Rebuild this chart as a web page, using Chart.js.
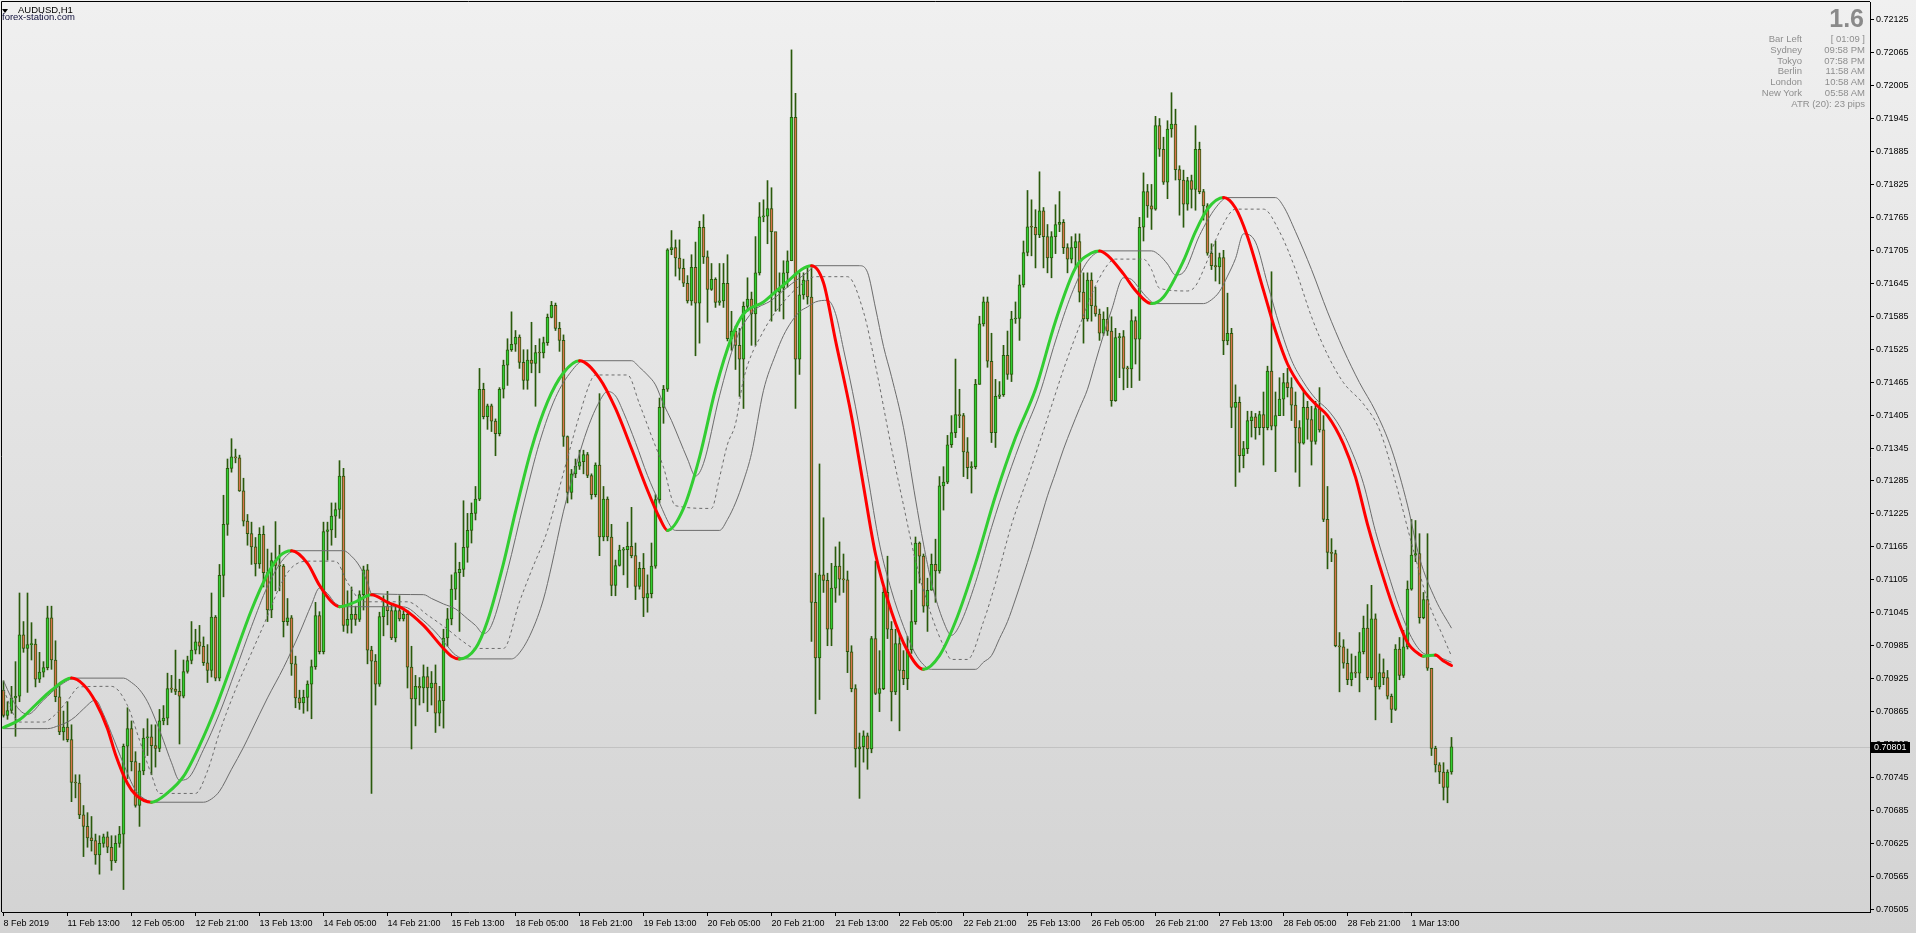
<!DOCTYPE html>
<html><head><meta charset="utf-8">
<script src="https://cdn.jsdelivr.net/npm/chart.js@4.4.1/dist/chart.umd.min.js"></script>
<style>
html,body{margin:0;padding:0;width:1916px;height:933px;overflow:hidden;background:#e2e2e2;}
#wrap{position:relative;width:1916px;height:933px;}
#c{position:absolute;left:0;top:0;}
.t{position:absolute;font-family:"Liberation Sans",Arial,sans-serif;white-space:nowrap;}
.lab{position:absolute;right:114px;font-family:"Liberation Sans",Arial,sans-serif;font-size:9.5px;line-height:10.8px;color:#8e8e8e;text-align:right;white-space:nowrap;}
.val{position:absolute;right:51px;font-family:"Liberation Sans",Arial,sans-serif;font-size:9.5px;line-height:10.8px;color:#8e8e8e;text-align:right;white-space:nowrap;}
</style></head><body>
<div id="wrap">
<canvas id="c" width="1916" height="933"></canvas>
<div style="position:absolute;left:2px;top:9px;width:0;height:0;border-left:3.5px solid transparent;border-right:3.5px solid transparent;border-top:4px solid #000;"></div>
<div class="t" style="left:18px;top:4px;font-size:9.5px;line-height:12px;color:#000;">AUDUSD,H1</div>
<div class="t" style="left:2px;top:11px;font-size:9.5px;line-height:12px;color:#0e0e3a;">forex-station.com</div>
<div class="t" style="right:52px;top:6px;font-size:25px;line-height:25px;font-weight:bold;color:#8a8a8a;">1.6</div>
<div class="lab" style="top:34px;">Bar Left</div><div class="val" style="top:34px;">[ 01:09 ]</div>
<div class="lab" style="top:45px;">Sydney</div><div class="val" style="top:45px;">09:58 PM</div>
<div class="lab" style="top:56px;">Tokyo</div><div class="val" style="top:56px;">07:58 PM</div>
<div class="lab" style="top:66px;">Berlin</div><div class="val" style="top:66px;">11:58 AM</div>
<div class="lab" style="top:77px;">London</div><div class="val" style="top:77px;">10:58 AM</div>
<div class="lab" style="top:88px;">New York</div><div class="val" style="top:88px;">05:58 AM</div>
<div class="val" style="top:99px;">ATR (20): 23 pips</div>
</div>
<script>
// ---------- DATA (AUDUSD H1, 8 Feb 2019 21:00 -> 1 Mar 2019 23:00) ----------
const opens = [
0.70904,0.70858,0.70867,0.70890,0.70893,0.71005,0.70980,0.70987,0.70988,0.70924,
0.70937,0.70945,0.71036,0.70959,0.70892,0.70828,0.70837,0.70814,0.70736,0.70735,
0.70677,0.70656,0.70635,0.70630,0.70604,0.70625,0.70637,0.70618,0.70593,0.70625,
0.70642,0.70802,0.70834,0.70774,0.70694,0.70757,0.70817,0.70819,0.70803,0.70798,
0.70848,0.70853,0.70907,0.70906,0.70902,0.70893,0.70938,0.70958,0.70977,0.70992,
0.70984,0.70954,0.70940,0.71037,0.70926,0.71113,0.71206,0.71308,0.71329,0.71327,
0.71267,0.71212,0.71189,0.71165,0.71134,0.71188,0.71118,0.71050,0.71140,0.71131,
0.71130,0.71029,0.71036,0.70952,0.70890,0.70881,0.70891,0.70915,0.70947,0.71040,
0.70974,0.71193,0.71196,0.71221,0.71233,0.71294,0.71022,0.71033,0.71042,0.71033,
0.71078,0.71123,0.70977,0.70957,0.70915,0.71038,0.71057,0.71049,0.70999,0.71049,
0.71034,0.71042,0.70946,0.70888,0.70911,0.70908,0.70929,0.70908,0.70917,0.70862,
0.70885,0.70999,0.71034,0.71088,0.71118,0.71124,0.71164,0.71195,0.71226,0.71252,
0.71452,0.71402,0.71422,0.71394,0.71371,0.71452,0.71496,0.71524,0.71534,0.71547,
0.71501,0.71468,0.71505,0.71499,0.71519,0.71518,0.71537,0.71583,0.71605,0.71563,
0.71541,0.71366,0.71264,0.71298,0.71312,0.71320,0.71333,0.71295,0.71260,0.71314,
0.71183,0.71252,0.71183,0.71095,0.71131,0.71159,0.71160,0.71166,0.71149,0.71093,
0.71126,0.71072,0.71080,0.71130,0.71251,0.71419,0.71452,0.71706,0.71710,0.71691,
0.71672,0.71645,0.71613,0.71674,0.71609,0.71747,0.71693,0.71634,0.71652,0.71610,
0.71613,0.71645,0.71544,0.71558,0.71532,0.71507,0.71603,0.71616,0.71589,0.71664,
0.71766,0.71767,0.71781,0.71739,0.71629,0.71636,0.71664,0.71686,0.71947,0.71507,
0.71624,0.71651,0.71620,0.71064,0.70963,0.71114,0.71104,0.71015,0.71090,0.71130,
0.71106,0.71105,0.70974,0.70907,0.70797,0.70801,0.70821,0.70797,0.70998,0.70898,
0.70907,0.71082,0.71015,0.70901,0.70989,0.70940,0.70925,0.70978,0.71029,0.71172,
0.71148,0.71057,0.71086,0.71133,0.71121,0.71276,0.71283,0.71351,0.71373,0.71406,
0.71404,0.71338,0.71309,0.71311,0.71461,0.71571,0.71611,0.71503,0.71373,0.71439,
0.71442,0.71514,0.71479,0.71580,0.71581,0.71642,0.71701,0.71748,0.71747,0.71733,
0.71777,0.71730,0.71691,0.71730,0.71752,0.71756,0.71710,0.71689,0.71710,0.71721,
0.71629,0.71580,0.71651,0.71604,0.71589,0.71554,0.71580,0.71558,0.71431,0.71546,
0.71548,0.71490,0.71489,0.71577,0.71543,0.71747,0.71812,0.71786,0.71780,0.71932,
0.71889,0.71829,0.71926,0.71935,0.71852,0.71833,0.71789,0.71832,0.71816,0.71889,
0.71812,0.71786,0.71700,0.71677,0.71675,0.71692,0.71540,0.71554,0.71419,0.71428,
0.71331,0.71344,0.71395,0.71402,0.71382,0.71406,0.71382,0.71485,0.71385,0.71404,
0.71434,0.71464,0.71455,0.71423,0.71382,0.71354,0.71419,0.71397,0.71357,0.71417,
0.71378,0.71215,0.71155,0.71153,0.70985,0.70983,0.70953,0.70923,0.70936,0.70935,
0.70974,0.71017,0.70927,0.71034,0.70910,0.70936,0.70927,0.70893,0.70869,0.70979,
0.70931,0.70983,0.71088,0.71150,0.71153,0.71036,0.71069,0.70944,0.70798,0.70768,
0.70755,0.70727,0.70755];
const highs = [
0.70921,0.70883,0.70911,0.70956,0.71081,0.71029,0.71081,0.71027,0.70997,0.70973,
0.70956,0.71057,0.71057,0.70994,0.70911,0.70866,0.70883,0.70841,0.70750,0.70750,
0.70694,0.70681,0.70674,0.70642,0.70639,0.70642,0.70646,0.70639,0.70639,0.70656,
0.70806,0.70872,0.70848,0.70792,0.70771,0.70834,0.70852,0.70841,0.70841,0.70869,
0.70876,0.70935,0.70931,0.70977,0.70924,0.70959,0.70966,0.71029,0.71015,0.71022,
0.71001,0.70987,0.71081,0.71040,0.71133,0.71259,0.71325,0.71362,0.71343,0.71332,
0.71290,0.71224,0.71210,0.71182,0.71200,0.71203,0.71161,0.71154,0.71211,0.71168,
0.71133,0.71071,0.71040,0.70966,0.70904,0.70904,0.70921,0.70959,0.71064,0.71047,
0.71210,0.71210,0.71245,0.71245,0.71322,0.71308,0.71085,0.71092,0.71057,0.71085,
0.71130,0.71133,0.70984,0.70969,0.71046,0.71076,0.71084,0.71061,0.71057,0.71076,
0.71049,0.71049,0.70984,0.70931,0.70927,0.70950,0.70946,0.70938,0.70950,0.70911,
0.71015,0.71053,0.71114,0.71172,0.71137,0.71249,0.71226,0.71245,0.71275,0.71490,
0.71463,0.71425,0.71425,0.71398,0.71455,0.71505,0.71544,0.71593,0.71559,0.71551,
0.71524,0.71524,0.71574,0.71532,0.71544,0.71547,0.71589,0.71612,0.71609,0.71574,
0.71551,0.71367,0.71306,0.71325,0.71341,0.71341,0.71337,0.71298,0.71318,0.71444,
0.71275,0.71256,0.71206,0.71141,0.71168,0.71164,0.71210,0.71237,0.71172,0.71137,
0.71153,0.71114,0.71172,0.71260,0.71436,0.71459,0.71708,0.71741,0.71724,0.71724,
0.71689,0.71659,0.71697,0.71720,0.71758,0.71770,0.71704,0.71681,0.71655,0.71681,
0.71681,0.71697,0.71594,0.71567,0.71563,0.71611,0.71655,0.71629,0.71730,0.71792,
0.71797,0.71832,0.71819,0.71682,0.71664,0.71686,0.71704,0.72070,0.71991,0.71664,
0.71664,0.71673,0.71673,0.71117,0.71316,0.71218,0.71117,0.71135,0.71165,0.71174,
0.71152,0.71121,0.70985,0.70914,0.70826,0.70830,0.70826,0.71002,0.71139,0.70976,
0.71090,0.71148,0.71029,0.71015,0.71007,0.70976,0.71002,0.71086,0.71183,0.71174,
0.71152,0.71108,0.71152,0.71179,0.71293,0.71311,0.71368,0.71404,0.71507,0.71452,
0.71408,0.71364,0.71320,0.71470,0.71585,0.71620,0.71620,0.71554,0.71470,0.71466,
0.71532,0.71558,0.71594,0.71611,0.71660,0.71722,0.71814,0.71797,0.71779,0.71848,
0.71783,0.71752,0.71739,0.71788,0.71812,0.71761,0.71717,0.71730,0.71735,0.71735,
0.71664,0.71664,0.71664,0.71638,0.71598,0.71593,0.71601,0.71584,0.71563,0.71554,
0.71559,0.71494,0.71597,0.71584,0.71765,0.71846,0.71825,0.71825,0.71949,0.71945,
0.71911,0.71941,0.71992,0.71962,0.71859,0.71851,0.71838,0.71842,0.71932,0.71902,
0.71816,0.71790,0.71717,0.71722,0.71700,0.71705,0.71627,0.71563,0.71460,0.71438,
0.71357,0.71412,0.71412,0.71408,0.71412,0.71447,0.71494,0.71666,0.71447,0.71473,
0.71481,0.71490,0.71473,0.71447,0.71395,0.71447,0.71430,0.71421,0.71430,0.71455,
0.71404,0.71275,0.71180,0.71159,0.71009,0.70996,0.70979,0.70970,0.70966,0.71009,
0.71039,0.71060,0.71095,0.71043,0.70970,0.70961,0.70940,0.70897,0.70987,0.71000,
0.71013,0.71103,0.71215,0.71213,0.71189,0.71082,0.71189,0.70944,0.70802,0.70772,
0.70772,0.70759,0.70818];
const lows = [
0.70855,0.70851,0.70862,0.70820,0.70883,0.70973,0.70900,0.70959,0.70910,0.70918,
0.70928,0.70941,0.70942,0.70883,0.70823,0.70813,0.70810,0.70701,0.70708,0.70670,
0.70601,0.70618,0.70611,0.70587,0.70569,0.70618,0.70608,0.70576,0.70590,0.70618,
0.70541,0.70743,0.70757,0.70691,0.70656,0.70750,0.70785,0.70750,0.70764,0.70792,
0.70841,0.70841,0.70900,0.70896,0.70806,0.70890,0.70935,0.70952,0.70970,0.70970,
0.70949,0.70918,0.70928,0.70921,0.70921,0.71074,0.71186,0.71301,0.71318,0.71266,
0.71203,0.71168,0.71133,0.71112,0.71126,0.71092,0.71029,0.71036,0.71085,0.71085,
0.71001,0.71022,0.70931,0.70872,0.70869,0.70862,0.70866,0.70852,0.70942,0.70970,
0.70970,0.71141,0.71168,0.71182,0.71217,0.71011,0.71008,0.71008,0.71022,0.71029,
0.71050,0.70952,0.70716,0.70877,0.70911,0.71003,0.71023,0.70996,0.70992,0.71030,
0.71030,0.70908,0.70797,0.70839,0.70877,0.70881,0.70865,0.70877,0.70827,0.70839,
0.70835,0.70984,0.71023,0.71069,0.71011,0.71111,0.71137,0.71172,0.71214,0.71249,
0.71398,0.71379,0.71375,0.71331,0.71367,0.71436,0.71459,0.71521,0.71521,0.71490,
0.71452,0.71452,0.71482,0.71421,0.71482,0.71509,0.71532,0.71582,0.71559,0.71521,
0.71348,0.71245,0.71252,0.71291,0.71306,0.71298,0.71291,0.71252,0.71256,0.71149,
0.71176,0.71176,0.71076,0.71076,0.71130,0.71114,0.71091,0.71145,0.71069,0.71088,
0.71038,0.71046,0.71072,0.71126,0.71245,0.71390,0.71448,0.71697,0.71658,0.71651,
0.71639,0.71609,0.71605,0.71513,0.71536,0.71681,0.71574,0.71632,0.71601,0.71605,
0.71601,0.71540,0.71523,0.71488,0.71439,0.71417,0.71594,0.71532,0.71532,0.71660,
0.71757,0.71717,0.71576,0.71594,0.71594,0.71580,0.71638,0.71686,0.71417,0.71479,
0.71616,0.71607,0.70993,0.70861,0.70887,0.71082,0.70985,0.70985,0.71064,0.71077,
0.71082,0.70936,0.70901,0.70764,0.70707,0.70773,0.70760,0.70790,0.70896,0.70865,
0.70905,0.70998,0.70848,0.70896,0.70830,0.70914,0.70905,0.70971,0.71024,0.71099,
0.71046,0.71011,0.71086,0.71064,0.71117,0.71232,0.71280,0.71346,0.71364,0.71382,
0.71293,0.71289,0.71263,0.71307,0.71461,0.71567,0.71492,0.71355,0.71346,0.71435,
0.71439,0.71470,0.71466,0.71572,0.71541,0.71638,0.71695,0.71695,0.71673,0.71728,
0.71673,0.71664,0.71655,0.71699,0.71739,0.71699,0.71664,0.71682,0.71673,0.71611,
0.71536,0.71576,0.71576,0.71585,0.71541,0.71550,0.71550,0.71421,0.71430,0.71473,
0.71451,0.71455,0.71455,0.71498,0.71468,0.71722,0.71765,0.71743,0.71778,0.71876,
0.71825,0.71799,0.71911,0.71833,0.71769,0.71747,0.71778,0.71782,0.71778,0.71808,
0.71760,0.71696,0.71670,0.71649,0.71644,0.71515,0.71533,0.71382,0.71275,0.71301,
0.71309,0.71335,0.71365,0.71361,0.71369,0.71314,0.71378,0.71378,0.71302,0.71404,
0.71404,0.71438,0.71395,0.71301,0.71275,0.71352,0.71361,0.71314,0.71352,0.71374,
0.71211,0.71125,0.71138,0.70983,0.70901,0.70944,0.70914,0.70912,0.70927,0.70901,
0.70970,0.70923,0.70923,0.70850,0.70906,0.70914,0.70888,0.70845,0.70867,0.70923,
0.70927,0.70979,0.71086,0.71138,0.71026,0.71034,0.70940,0.70785,0.70755,0.70734,
0.70704,0.70699,0.70751];
const closes = [
0.70858,0.70867,0.70890,0.70893,0.71005,0.70980,0.70987,0.70988,0.70924,0.70937,
0.70945,0.71036,0.70959,0.70892,0.70828,0.70837,0.70814,0.70736,0.70735,0.70677,
0.70656,0.70635,0.70630,0.70604,0.70625,0.70637,0.70618,0.70593,0.70625,0.70642,
0.70802,0.70834,0.70774,0.70694,0.70757,0.70817,0.70819,0.70803,0.70798,0.70848,
0.70853,0.70907,0.70906,0.70902,0.70893,0.70938,0.70958,0.70977,0.70992,0.70984,
0.70954,0.70940,0.71037,0.70926,0.71113,0.71206,0.71308,0.71329,0.71327,0.71267,
0.71212,0.71189,0.71165,0.71134,0.71188,0.71118,0.71050,0.71140,0.71131,0.71130,
0.71029,0.71036,0.70952,0.70890,0.70881,0.70891,0.70915,0.70947,0.71040,0.70974,
0.71193,0.71196,0.71221,0.71233,0.71294,0.71022,0.71033,0.71042,0.71033,0.71078,
0.71123,0.70977,0.70957,0.70915,0.71038,0.71057,0.71049,0.70999,0.71049,0.71034,
0.71042,0.70946,0.70888,0.70911,0.70908,0.70929,0.70908,0.70917,0.70862,0.70885,
0.70999,0.71034,0.71088,0.71118,0.71124,0.71164,0.71195,0.71226,0.71252,0.71452,
0.71402,0.71422,0.71394,0.71371,0.71452,0.71496,0.71524,0.71534,0.71547,0.71501,
0.71468,0.71505,0.71499,0.71519,0.71518,0.71537,0.71583,0.71605,0.71563,0.71541,
0.71366,0.71264,0.71298,0.71312,0.71320,0.71333,0.71295,0.71260,0.71314,0.71183,
0.71252,0.71183,0.71095,0.71131,0.71159,0.71160,0.71166,0.71149,0.71093,0.71126,
0.71072,0.71080,0.71130,0.71251,0.71419,0.71452,0.71706,0.71710,0.71691,0.71672,
0.71645,0.71613,0.71674,0.71609,0.71747,0.71693,0.71634,0.71652,0.71610,0.71613,
0.71645,0.71544,0.71558,0.71532,0.71507,0.71603,0.71616,0.71589,0.71664,0.71766,
0.71767,0.71781,0.71739,0.71629,0.71636,0.71664,0.71686,0.71947,0.71507,0.71624,
0.71651,0.71620,0.71064,0.70963,0.71114,0.71104,0.71015,0.71090,0.71130,0.71106,
0.71105,0.70974,0.70907,0.70797,0.70801,0.70821,0.70797,0.70998,0.70898,0.70907,
0.71082,0.71015,0.70901,0.70989,0.70940,0.70925,0.70978,0.71029,0.71172,0.71148,
0.71057,0.71086,0.71133,0.71121,0.71276,0.71283,0.71351,0.71373,0.71406,0.71404,
0.71338,0.71309,0.71311,0.71461,0.71571,0.71611,0.71503,0.71373,0.71439,0.71442,
0.71514,0.71479,0.71580,0.71581,0.71642,0.71701,0.71748,0.71747,0.71733,0.71777,
0.71730,0.71691,0.71730,0.71752,0.71756,0.71710,0.71689,0.71710,0.71721,0.71629,
0.71580,0.71651,0.71604,0.71589,0.71554,0.71580,0.71558,0.71431,0.71546,0.71548,
0.71490,0.71489,0.71577,0.71543,0.71747,0.71812,0.71786,0.71780,0.71932,0.71889,
0.71829,0.71926,0.71935,0.71852,0.71833,0.71789,0.71832,0.71816,0.71889,0.71812,
0.71786,0.71700,0.71677,0.71675,0.71692,0.71540,0.71554,0.71419,0.71428,0.71331,
0.71344,0.71395,0.71402,0.71382,0.71406,0.71382,0.71485,0.71385,0.71404,0.71434,
0.71464,0.71455,0.71423,0.71382,0.71354,0.71419,0.71397,0.71357,0.71417,0.71378,
0.71215,0.71155,0.71153,0.70985,0.70983,0.70953,0.70923,0.70936,0.70935,0.70974,
0.71017,0.70927,0.71034,0.70910,0.70936,0.70927,0.70893,0.70869,0.70979,0.70931,
0.70983,0.71088,0.71150,0.71153,0.71036,0.71069,0.70944,0.70798,0.70768,0.70755,
0.70727,0.70755,0.70801];

// smoothed trend line (bar index -> value)
const trendBars = [0,4,8,12,17,20,23,26,28,31,33,37,41,45,49,53,57,62,66,69,72,76,79,82,84,88,92,96,100,105,110,112,114,118,121,125,128,132,136,140,144,149,153,157,161,164,166,170,174,178,182,185,190,195,202,205,208,212,215,218,222,226,230,234,238,243,248,253,258,263,268,272,274,276,280,283,287,290,295,298,301,305,308,311,315,318,321,325,328,331,335,338,341,345,348,351,354,355,358,360,362];
const trendValues = [0.70836,0.70850,0.70877,0.70904,0.70926,0.70914,0.70883,0.70834,0.70787,0.70734,0.70714,0.70700,0.70717,0.70747,0.70803,0.70871,0.70950,0.71050,0.71115,0.71148,0.71158,0.71135,0.71095,0.71065,0.71056,0.71065,0.71078,0.71064,0.71052,0.71022,0.70980,0.70966,0.70961,0.70980,0.71030,0.71135,0.71229,0.71344,0.71429,0.71482,0.71504,0.71472,0.71417,0.71344,0.71268,0.71218,0.71195,0.71235,0.71328,0.71452,0.71546,0.71589,0.71611,0.71642,0.71677,0.71646,0.71541,0.71403,0.71276,0.71152,0.71047,0.70976,0.70942,0.70967,0.71029,0.71135,0.71258,0.71364,0.71452,0.71576,0.71673,0.71700,0.71704,0.71696,0.71662,0.71632,0.71608,0.71620,0.71686,0.71739,0.71780,0.71801,0.71782,0.71730,0.71632,0.71558,0.71498,0.71450,0.71425,0.71404,0.71352,0.71292,0.71206,0.71108,0.71043,0.70991,0.70969,0.70966,0.70968,0.70957,0.70949];

// upper channel (solid)
const upperBars = [0,2,4,6,10,14,18,30,32,34,36,38,40,42,44,46,50,54,58,62,66,70,73,85,87,89,91,92,105,107,110,113,116,118,120,122,126,130,134,138,142,145,157,159,161,163,165,167,169,171,173,175,179,183,187,192,197,201,203,214,216,218,220,222,225,228,230,232,235,237,239,243,247,251,255,259,263,267,271,275,287,289,291,293,295,299,303,306,318,320,323,327,331,335,339,343,347,351,354,358,362];
const upperValues = [0.70921,0.70890,0.70868,0.70860,0.70886,0.70912,0.70926,0.70926,0.70918,0.70905,0.70883,0.70850,0.70812,0.70772,0.70740,0.70743,0.70796,0.70862,0.70940,0.71020,0.71093,0.71143,0.71158,0.71158,0.71148,0.71130,0.71100,0.71080,0.71078,0.71071,0.71061,0.71052,0.71034,0.71022,0.71007,0.71022,0.71122,0.71243,0.71355,0.71437,0.71485,0.71504,0.71504,0.71492,0.71478,0.71460,0.71425,0.71395,0.71360,0.71325,0.71294,0.71317,0.71440,0.71540,0.71591,0.71614,0.71644,0.71665,0.71677,0.71677,0.71665,0.71600,0.71530,0.71475,0.71382,0.71252,0.71170,0.71100,0.71029,0.71004,0.71022,0.71100,0.71200,0.71290,0.71370,0.71443,0.71540,0.71625,0.71685,0.71704,0.71704,0.71696,0.71680,0.71660,0.71665,0.71732,0.71782,0.71801,0.71801,0.71785,0.71739,0.71670,0.71593,0.71524,0.71464,0.71412,0.71343,0.71241,0.71145,0.71069,0.71017];

// middle channel (dashed)
const midBars = [0,4,10,13,16,19,27,31,34,37,39,48,51,54,58,62,66,69,72,76,83,86,90,101,106,111,115,118,125,129,132,136,140,144,147,148,156,159,162,165,168,177,179,181,183,185,190,195,200,203,211,215,218,222,225,228,232,235,237,241,245,248,252,257,261,265,269,274,278,285,287,289,296,298,301,304,308,315,319,323,327,331,335,340,344,348,352,356,360,362];
const midValues = [0.70905,0.70846,0.70846,0.70860,0.70885,0.70910,0.70911,0.70876,0.70813,0.70750,0.70716,0.70716,0.70757,0.70827,0.70905,0.70972,0.71039,0.71092,0.71127,0.71139,0.71139,0.71100,0.71065,0.71065,0.71041,0.71015,0.70992,0.70980,0.70980,0.71065,0.71122,0.71195,0.71300,0.71405,0.71470,0.71478,0.71478,0.71425,0.71367,0.71310,0.71240,0.71235,0.71291,0.71352,0.71389,0.71470,0.71558,0.71611,0.71646,0.71657,0.71657,0.71593,0.71495,0.71345,0.71241,0.71140,0.71040,0.70985,0.70960,0.70960,0.71029,0.71099,0.71205,0.71311,0.71399,0.71488,0.71567,0.71655,0.71689,0.71689,0.71670,0.71636,0.71631,0.71640,0.71687,0.71739,0.71780,0.71780,0.71739,0.71670,0.71584,0.71515,0.71464,0.71425,0.71378,0.71283,0.71172,0.71069,0.71000,0.70966];

// lower channel (solid)
const lowerBars = [0,11,14,16,18,20,23,25,27,30,33,36,38,50,52,54,57,60,62,66,70,74,77,79,81,83,86,99,101,104,108,111,113,116,127,129,132,135,137,140,143,146,149,151,153,155,158,161,164,167,168,179,181,183,185,187,190,193,195,197,199,201,203,206,208,210,213,216,219,222,225,228,231,232,243,245,247,249,251,253,255,257,259,261,263,265,267,269,271,273,275,277,280,282,284,286,288,300,302,304,306,308,310,313,316,319,322,325,328,331,334,337,340,343,346,349,352,355,358,362];
const lowerValues = [0.70834,0.70834,0.70840,0.70846,0.70856,0.70870,0.70886,0.70860,0.70825,0.70770,0.70722,0.70703,0.70700,0.70700,0.70706,0.70720,0.70760,0.70800,0.70830,0.70890,0.70945,0.71008,0.71060,0.71090,0.71080,0.71062,0.71056,0.71056,0.71054,0.71037,0.71010,0.70984,0.70968,0.70961,0.70961,0.70972,0.71010,0.71070,0.71130,0.71230,0.71310,0.71380,0.71430,0.71448,0.71440,0.71410,0.71355,0.71295,0.71245,0.71200,0.71195,0.71195,0.71215,0.71245,0.71285,0.71335,0.71450,0.71515,0.71550,0.71575,0.71593,0.71602,0.71611,0.71614,0.71590,0.71525,0.71420,0.71297,0.71170,0.71085,0.71020,0.70970,0.70944,0.70942,0.70942,0.70955,0.70967,0.70998,0.71029,0.71070,0.71114,0.71160,0.71209,0.71258,0.71300,0.71343,0.71381,0.71417,0.71452,0.71502,0.71551,0.71596,0.71655,0.71652,0.71635,0.71618,0.71608,0.71608,0.71615,0.71630,0.71658,0.71690,0.71735,0.71720,0.71644,0.71568,0.71505,0.71465,0.71435,0.71415,0.71385,0.71340,0.71280,0.71193,0.71120,0.71053,0.71000,0.70971,0.70966,0.70955];

// axis ticks
const timeTickBars = [0,16,32,48,64,80,96,112,128,144,160,176,192,208,224,240,256,272,288,304,320,336,352];
const timeTickLabels = ["8 Feb 2019","11 Feb 13:00","12 Feb 05:00","12 Feb 21:00","13 Feb 13:00","14 Feb 05:00","14 Feb 21:00","15 Feb 13:00","18 Feb 05:00","18 Feb 21:00","19 Feb 13:00","20 Feb 05:00","20 Feb 21:00","21 Feb 13:00","22 Feb 05:00","22 Feb 21:00","25 Feb 13:00","26 Feb 05:00","26 Feb 21:00","27 Feb 13:00","28 Feb 05:00","28 Feb 21:00","1 Mar 13:00"];
const priceTicks = [0.70505,0.70565,0.70625,0.70685,0.70745,0.70805,0.70865,0.70925,0.70985,0.71045,0.71105,0.71165,0.71225,0.71285,0.71345,0.71405,0.71465,0.71525,0.71585,0.71645,0.71705,0.71765,0.71825,0.71885,0.71945,0.72005,0.72065,0.72125];
const bidPrice = 0.70801;

// ---------- STYLE ----------
const FONT = '"Liberation Sans", Arial, sans-serif';
const BULL = '#32cd32', BEAR = '#d8744c', OUTLINE = '#2a5a0c';
const UP = '#32cd32', DOWN = '#ff0000', CH = '#6c6c6c';
const XMIN = -0.375, XMAX = 466.625, YMIN = 0.705001, YMAX = 0.721572;

const pts = (xs, ys) => xs.map((x, k) => ({x: x, y: ys[k]}));
const bodies = closes.map((c, i) => ({x: i, y: [opens[i], c]}));
const wicks = lows.map((l, i) => ({x: i, y: [l, highs[i]]}));
const bodyFill = closes.map((c, i) => c >= opens[i] ? BULL : BEAR);

const deco = {
  id: 'deco',
  beforeDraw(chart) {
    const {ctx, width, height} = chart;
    const g = ctx.createLinearGradient(0, 0, 0, height);
    g.addColorStop(0, '#f0f0f0'); g.addColorStop(1, '#d3d3d3');
    ctx.save(); ctx.fillStyle = g; ctx.fillRect(0, 0, width, height); ctx.restore();
  },
  beforeDatasetsDraw(chart) {
    const {ctx, chartArea: a, scales: {y}} = chart;
    const py = Math.round(y.getPixelForValue(bidPrice)) + 0.5;
    ctx.save(); ctx.strokeStyle = '#c2c2c2'; ctx.lineWidth = 1;
    ctx.beginPath(); ctx.moveTo(a.left, py); ctx.lineTo(a.right, py); ctx.stroke(); ctx.restore();
  },
  afterDraw(chart) {
    const {ctx, chartArea: a, scales: {y}} = chart;
    ctx.save();
    ctx.strokeStyle = '#000'; ctx.lineWidth = 1;
    ctx.beginPath(); ctx.moveTo(a.left - 0.5, a.bottom); ctx.lineTo(a.left - 0.5, a.top - 0.5); ctx.lineTo(a.right, a.top - 0.5); ctx.stroke();
    const py = Math.round(y.getPixelForValue(bidPrice));
    ctx.fillStyle = '#000'; ctx.fillRect(a.right + 1, py - 5, 39, 11);
    ctx.fillStyle = '#fff'; ctx.font = '9px ' + FONT; ctx.textBaseline = 'middle'; ctx.textAlign = 'left';
    ctx.fillText(bidPrice.toFixed(5), a.right + 4, py + 1);
    ctx.restore();
  }
};

const lineDs = (data, extra) => Object.assign({type: 'line', data: data, pointRadius: 0, borderWidth: 1, borderColor: CH, cubicInterpolationMode: 'monotone', fill: false, order: 1}, extra);

new Chart(document.getElementById('c'), {
  type: 'bar',
  data: {datasets: [
    lineDs(pts(trendBars, trendValues), {borderWidth: 3, borderColor: UP, order: 0, borderCapStyle: 'round', borderJoinStyle: 'round',
      segment: {borderColor: s => s.p1.parsed.y >= s.p0.parsed.y ? UP : DOWN}}),
    lineDs(pts(upperBars, upperValues)),
    lineDs(pts(midBars, midValues), {borderDash: [3, 3]}),
    lineDs(pts(lowerBars, lowerValues)),
    {type: 'bar', data: bodies, backgroundColor: bodyFill, borderColor: OUTLINE, borderWidth: 1, borderSkipped: false,
      barThickness: 3, grouped: false, minBarLength: 1, order: 2},
    {type: 'bar', data: wicks, backgroundColor: OUTLINE, borderWidth: 0, barThickness: 1, grouped: false, order: 3}
  ]},
  options: {
    responsive: false, animation: false, devicePixelRatio: 1,
    layout: {padding: {left: 2, top: 2, right: 0, bottom: 0}},
    plugins: {legend: {display: false}, tooltip: {enabled: false}},
    scales: {
      x: {type: 'linear', position: 'bottom', min: XMIN, max: XMAX, offset: false,
        grid: {display: true, offset: false, drawOnChartArea: false, drawTicks: true, tickLength: 4, color: '#000'},
        border: {display: true, color: '#000', width: 1},
        ticks: {color: '#000', font: {family: FONT, size: 9}, padding: 2, align: 'start', autoSkip: false, maxRotation: 0,
          callback: (v, idx) => timeTickLabels[idx]},
        afterBuildTicks: s => { s.ticks = timeTickBars.map(v => ({value: v})); },
        afterFit: s => { s.height = 21; s.paddingLeft = 0; s.paddingRight = 0; }
      },
      y: {type: 'linear', position: 'right', min: YMIN, max: YMAX, beginAtZero: false,
        grid: {display: true, drawOnChartArea: false, drawTicks: true, tickLength: 4, color: '#000'},
        border: {display: true, color: '#000', width: 1},
        ticks: {color: '#000', font: {family: FONT, size: 9}, padding: 2, autoSkip: false,
          callback: v => Number(v).toFixed(5)},
        afterBuildTicks: s => { s.ticks = priceTicks.map(v => ({value: v})); },
        afterFit: s => { s.width = 46; s.paddingTop = 0; s.paddingBottom = 0; }
      }
    }
  },
  plugins: [deco]
});
</script>
</body></html>
